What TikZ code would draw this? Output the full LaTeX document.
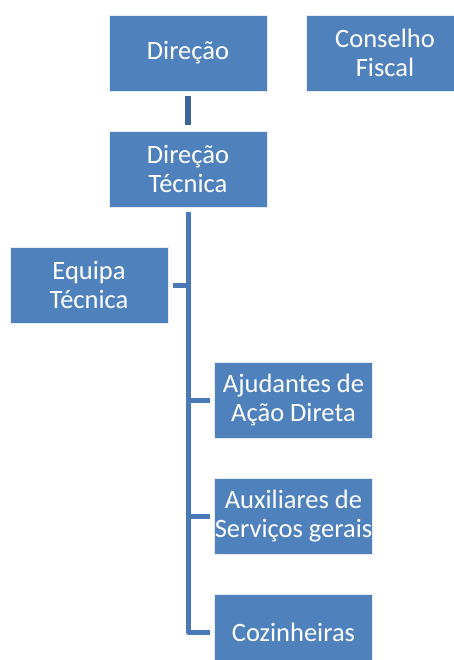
\documentclass[tikz,border=0pt]{standalone}
\usepackage{fontspec}
\setmainfont{Carlito}
\definecolor{boxblue}{HTML}{4F81BD}
\definecolor{linedark}{HTML}{3C6699}
\definecolor{lineblue}{HTML}{4A7AB5}
\begin{document}
\begin{tikzpicture}[x=1pt,y=-1pt,
  orgbox/.style={fill=boxblue,draw=white!85!boxblue,line width=0.6pt,minimum width=158pt,minimum height=76pt,
    inner sep=0pt,align=center,text=white,font=\fontsize{26.5}{29.5}\selectfont},
  conn/.style={draw=lineblue,line width=5pt}]
\clip (0,0) rectangle (454,660);
\fill[white] (0,0) rectangle (454,660);
\node[orgbox] (dir) at (188,53) {Direção};
\node[orgbox] (cf) at (385,53) {Conselho\\Fiscal};
\node[orgbox] (dt) at (188,169) {Direção\\Técnica};
\node[orgbox] (eq) at (89,285) {Equipa\\Técnica};
\node[orgbox] (aj) at (293.5,400) {Ajudantes de\\Ação Direta};
\node[orgbox] (au) at (293.5,516) {Auxiliares de\\Serviços gerais};
\node[orgbox] (co) at (293.5,632) {Cozinheiras};
\coordinate (top) at (188,212);
\coordinate (bot) at (188,632);
\draw[draw=linedark,line width=6pt] ([yshift=-5pt]dir.south) -- ([yshift=6pt]dt.north);
\draw[conn,line join=round] (top) -- (bot) -- ([xshift=-4pt]co.west);
\draw[conn] ([xshift=5pt]eq.east) -- (188,285);
\draw[conn] (188,400) -- ([xshift=-4pt]aj.west);
\draw[conn] (188,516) -- ([xshift=-4pt]au.west);
\end{tikzpicture}
\end{document}
